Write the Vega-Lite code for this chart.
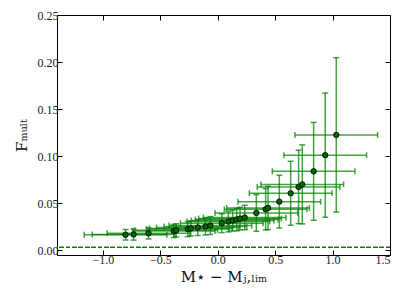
{
  "$schema": "https://vega.github.io/schema/vega-lite/v6.json",
  "width": 333,
  "height": 240,
  "autosize": "none",
  "padding": {"left": 57, "top": 15, "right": 17, "bottom": 50},
  "background": "white",
  "config": {
    "view": {"stroke": "black", "strokeWidth": 1},
    "axis": {
      "grid": false,
      "domain": false,
      "labelFont": "Liberation Serif",
      "labelFontSize": 12,
      "labelColor": "#222",
      "titleFont": "DejaVu Serif",
      "titleFontSize": 15,
      "titleFontWeight": "normal",
      "titleColor": "#111",
      "tickColor": "black",
      "tickSize": -5,
      "tickWidth": 1
    }
  },
  "data": {
    "values": [
      {"x": -0.803, "y": 0.0165, "xlo": -1.163, "xhi": -0.443, "ylo": 0.0109, "yhi": 0.0221},
      {"x": -0.733, "y": 0.0168, "xlo": -1.093, "xhi": -0.373, "ylo": 0.0108, "yhi": 0.0228},
      {"x": -0.603, "y": 0.018, "xlo": -0.963, "xhi": -0.243, "ylo": 0.012, "yhi": 0.024},
      {"x": -0.383, "y": 0.0205, "xlo": -0.743, "xhi": -0.023, "ylo": 0.0135, "yhi": 0.0275},
      {"x": -0.362, "y": 0.0212, "xlo": -0.722, "xhi": -0.002, "ylo": 0.0142, "yhi": 0.0282},
      {"x": -0.261, "y": 0.0225, "xlo": -0.621, "xhi": 0.099, "ylo": 0.0145, "yhi": 0.0305},
      {"x": -0.235, "y": 0.0232, "xlo": -0.595, "xhi": 0.125, "ylo": 0.0152, "yhi": 0.0312},
      {"x": -0.174, "y": 0.0242, "xlo": -0.534, "xhi": 0.186, "ylo": 0.0157, "yhi": 0.0327},
      {"x": -0.107, "y": 0.0253, "xlo": -0.467, "xhi": 0.253, "ylo": 0.0163, "yhi": 0.0343},
      {"x": -0.064, "y": 0.0263, "xlo": -0.424, "xhi": 0.296, "ylo": 0.0168, "yhi": 0.0358},
      {"x": 0.035, "y": 0.0288, "xlo": -0.325, "xhi": 0.395, "ylo": 0.0188, "yhi": 0.0388},
      {"x": 0.093, "y": 0.0305, "xlo": -0.267, "xhi": 0.453, "ylo": 0.0195, "yhi": 0.0415},
      {"x": 0.13, "y": 0.0316, "xlo": -0.23, "xhi": 0.49, "ylo": 0.0206, "yhi": 0.0426},
      {"x": 0.165, "y": 0.0327, "xlo": -0.195, "xhi": 0.525, "ylo": 0.0207, "yhi": 0.0447},
      {"x": 0.194, "y": 0.0337, "xlo": -0.166, "xhi": 0.554, "ylo": 0.0217, "yhi": 0.0457},
      {"x": 0.235, "y": 0.0348, "xlo": -0.125, "xhi": 0.595, "ylo": 0.0218, "yhi": 0.0478},
      {"x": 0.336, "y": 0.0397, "xlo": -0.024, "xhi": 0.696, "ylo": 0.0202, "yhi": 0.0592},
      {"x": 0.417, "y": 0.0436, "xlo": 0.057, "xhi": 0.777, "ylo": 0.0216, "yhi": 0.0656},
      {"x": 0.438, "y": 0.045, "xlo": 0.078, "xhi": 0.798, "ylo": 0.022, "yhi": 0.068},
      {"x": 0.536, "y": 0.0517, "xlo": 0.176, "xhi": 0.896, "ylo": 0.0237, "yhi": 0.0797},
      {"x": 0.635, "y": 0.0606, "xlo": 0.275, "xhi": 0.995, "ylo": 0.0266, "yhi": 0.0946},
      {"x": 0.704, "y": 0.0673, "xlo": 0.344, "xhi": 1.064, "ylo": 0.0283, "yhi": 0.1063},
      {"x": 0.736, "y": 0.07, "xlo": 0.376, "xhi": 1.096, "ylo": 0.028, "yhi": 0.112},
      {"x": 0.835, "y": 0.0839, "xlo": 0.475, "xhi": 1.195, "ylo": 0.0319, "yhi": 0.1359},
      {"x": 0.936, "y": 0.1011, "xlo": 0.576, "xhi": 1.296, "ylo": 0.0351, "yhi": 0.1671},
      {"x": 1.032, "y": 0.1226, "xlo": 0.672, "xhi": 1.392, "ylo": 0.0406, "yhi": 0.2046}
    ]
  },
  "layer": [
    {
      "mark": {"type": "rule", "color": "#008000", "strokeDash": [4, 2.4], "strokeWidth": 1},
      "encoding": {
        "y": {"datum": 0.003, "type": "quantitative", "scale": {"domain": [-0.005, 0.25], "nice": false, "zero": false}, "axis": null}
      }
    },
    {
      "mark": {"type": "errorbar", "color": "#008000", "opacity": 0.72, "thickness": 1.5, "ticks": {"size": 6}},
      "encoding": {
        "x": {"field": "xlo", "type": "quantitative", "scale": {"domain": [-1.4, 1.5], "nice": false, "zero": false},
              "axis": {"orient": "bottom", "values": [-1.0, -0.5, 0.0, 0.5, 1.0, 1.5], "format": ".1f", "labelPadding": 4, "title": "M⋆ − Mⱼ,ₗᵢₘ", "titlePadding": 4}},
        "x2": {"field": "xhi"},
        "y": {"field": "y", "type": "quantitative",
              "axis": {"orient": "left", "values": [0, 0.05, 0.1, 0.15, 0.2, 0.25], "format": ".2f", "labelPadding": 4, "title": "Fₘᵤₗₜ", "titlePadding": 8}}
      }
    },
    {
      "mark": {"type": "errorbar", "color": "#008000", "opacity": 0.72, "thickness": 1.5, "ticks": {"size": 6}},
      "encoding": {
        "x": {"field": "x", "type": "quantitative", "axis": null},
        "y": {"field": "ylo", "type": "quantitative", "axis": null},
        "y2": {"field": "yhi"}
      }
    },
    {
      "mark": {"type": "circle", "fill": "#006400", "stroke": "black", "strokeWidth": 0.8, "size": 30, "opacity": 1},
      "encoding": {
        "x": {"field": "x", "type": "quantitative",
              "axis": {"orient": "top", "values": [-1.0, -0.5, 0.0, 0.5, 1.0, 1.5], "labels": false, "title": null}},
        "y": {"field": "y", "type": "quantitative",
              "axis": {"orient": "right", "values": [0, 0.05, 0.1, 0.15, 0.2, 0.25], "labels": false, "title": null}}
      }
    }
  ],
  "resolve": {"axis": {"x": "independent", "y": "independent"}}
}
